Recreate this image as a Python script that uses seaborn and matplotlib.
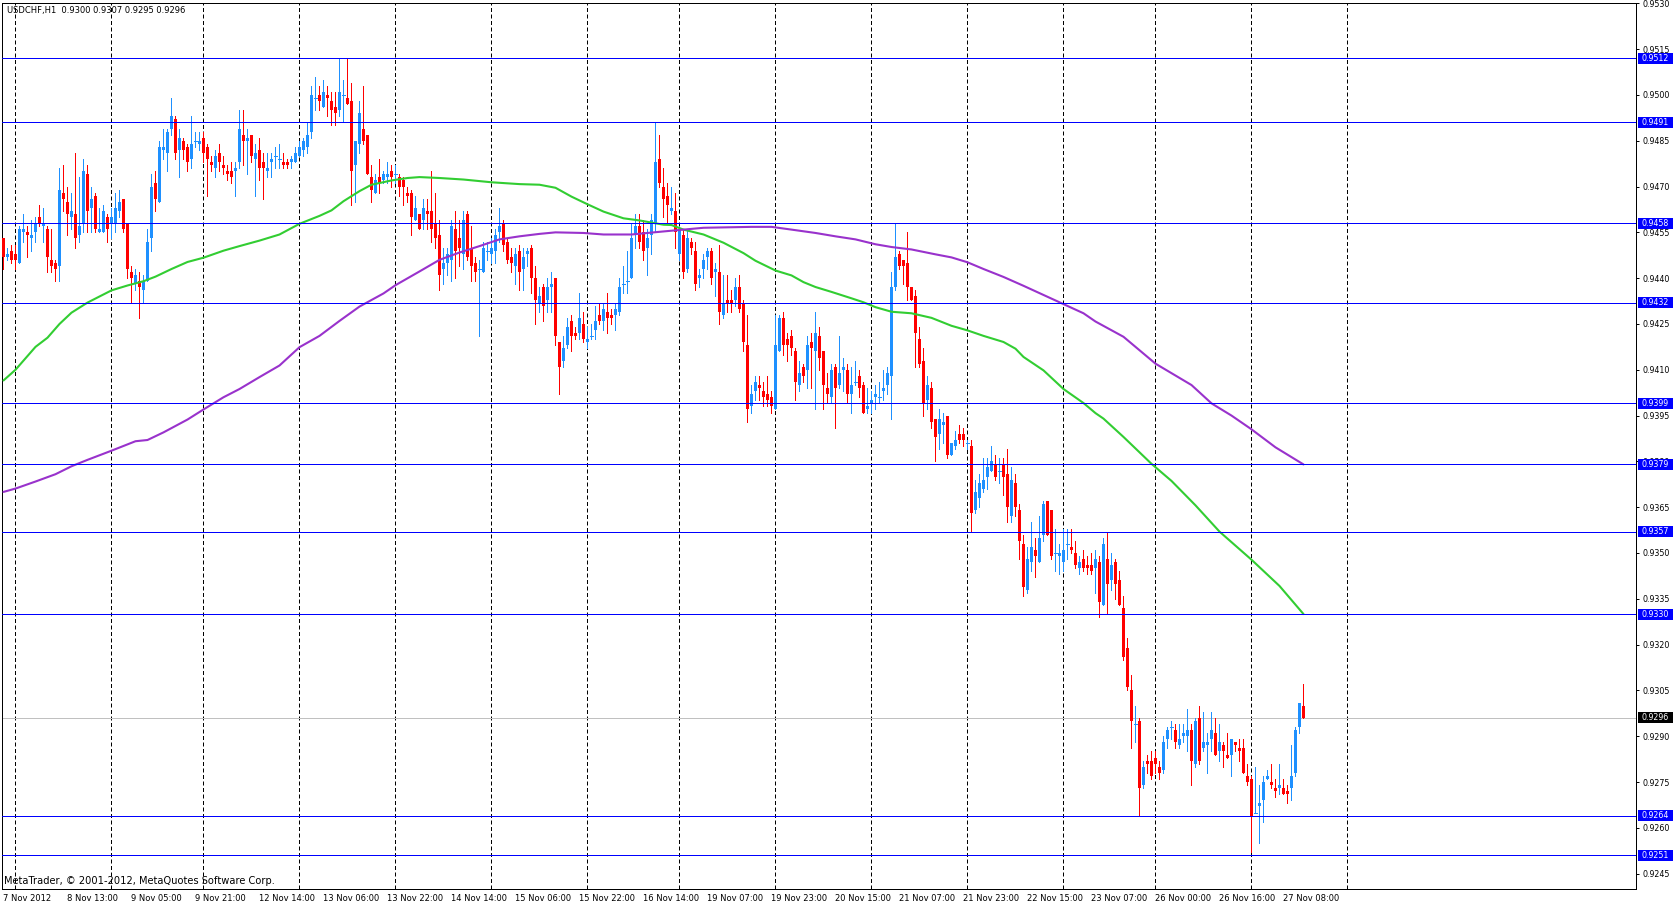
import numpy as np
import matplotlib
matplotlib.use("Agg")
import matplotlib.pyplot as plt
import matplotlib.transforms as mtrans
from matplotlib.patches import Rectangle
import seaborn as sns

# ---------------- data (prices x 10000, one candle per hour) ----------------
opens = [
 9453,9447,9449,9448,9445,9455,9455,9453,9455,9460,9457,9456,9446,9445,9444,9468,9465,9460,9461,9454,
 9458,9474,9463,9467,9455,9455,9460,9458,9458,9462,9466,9458,9442,9438,9439,9436,9439,9453,9471,9465,
 9482,9481,9489,9492,9482,9485,9483,9479,9485,9484,9486,9483,9478,9476,9481,9477,9475,9475,9475,9478,
 9487,9485,9487,9479,9482,9478,9475,9478,9480,9479,9478,9478,9478,9478,9480,9482,9483,9488,9499,9500,
 9496,9500,9498,9496,9495,9500,9499,9498,9477,9484,9489,9487,9473,9468,9473,9472,9473,9475,9474,9473,
 9472,9468,9468,9459,9461,9459,9462,9462,9458,9454,9443,9445,9446,9456,9453,9448,9461,9450,9445,9443,
 9442,9449,9448,9449,9455,9458,9452,9447,9444,9449,9443,9448,9450,9440,9432,9437,9433,9437,9440,9419,
 9413,9418,9426,9422,9422,9425,9419,9421,9423,9428,9426,9429,9428,9428,9429,9438,9439,9440,9454,9457,
 9455,9450,9454,9458,9479,9470,9467,9462,9462,9448,9454,9443,9452,9449,9440,9443,9447,9449,9442,9442,
 9428,9433,9433,9433,9437,9432,9418,9398,9403,9405,9403,9402,9401,9397,9416,9427,9420,9421,9416,9405,
 9411,9410,9419,9416,9421,9416,9404,9401,9411,9405,9410,9410,9402,9406,9408,9405,9397,9399,9401,9401,
 9403,9405,9408,9437,9448,9446,9445,9437,9434,9420,9413,9400,9404,9394,9389,9392,9395,9382,9385,9389,
 9389,9386,9385,9364,9368,9371,9375,9377,9379,9377,9379,9376,9362,9373,9364,9353,9338,9347,9351,9347,
 9356,9367,9364,9350,9349,9347,9353,9352,9350,9345,9348,9346,9346,9345,9347,9333,9348,9341,9347,9341,
 9332,9319,9305,9294,9295,9274,9282,9282,9283,9280,9279,9289,9293,9292,9287,9290,9290,9292,9281,9296,
 9286,9287,9289,9291,9285,9287,9284,9284,9288,9286,9286,9277,9276,9265,9267,9269,9276,9275,9273,9273,
 9273,9272,9273,9278,9293,9300]
highs = [
 9453,9450,9451,9451,9457,9461,9457,9459,9460,9464,9463,9457,9456,9446,9476,9477,9470,9468,9481,9473,
 9479,9477,9470,9468,9463,9464,9461,9463,9468,9469,9466,9458,9444,9443,9442,9441,9456,9474,9475,9485,
 9489,9489,9499,9493,9489,9486,9484,9493,9488,9488,9488,9484,9480,9482,9484,9480,9477,9478,9478,9495,
 9495,9489,9487,9484,9486,9481,9481,9481,9483,9484,9481,9479,9480,9483,9485,9486,9491,9503,9506,9503,
 9505,9503,9501,9501,9512,9505,9512,9504,9485,9498,9503,9487,9477,9474,9479,9475,9478,9477,9477,9474,
 9473,9470,9469,9467,9461,9466,9466,9475,9468,9459,9450,9450,9459,9462,9459,9462,9462,9457,9447,9446,
 9452,9452,9453,9456,9463,9459,9453,9450,9450,9451,9450,9450,9451,9444,9437,9438,9440,9442,9440,9419,
 9421,9427,9428,9424,9435,9429,9424,9425,9431,9432,9432,9435,9430,9432,9440,9444,9449,9458,9461,9461,
 9459,9456,9461,9491,9487,9476,9471,9470,9468,9457,9456,9456,9453,9452,9443,9448,9450,9450,9445,9451,
 9441,9441,9436,9440,9441,9433,9428,9405,9408,9408,9406,9408,9403,9428,9428,9429,9422,9423,9417,9413,
 9412,9421,9422,9429,9424,9416,9409,9412,9412,9421,9414,9412,9411,9413,9410,9406,9404,9403,9405,9406,
 9410,9411,9442,9458,9449,9446,9455,9437,9436,9424,9417,9408,9406,9394,9397,9396,9395,9386,9390,9392,
 9391,9387,9387,9374,9376,9381,9381,9385,9382,9381,9381,9384,9378,9376,9366,9356,9352,9360,9355,9362,
 9367,9367,9364,9358,9353,9358,9358,9358,9354,9349,9351,9349,9350,9351,9349,9355,9357,9350,9348,9344,
 9336,9322,9310,9300,9296,9282,9284,9285,9285,9282,9290,9293,9295,9294,9294,9294,9299,9294,9296,9300,
 9298,9291,9298,9296,9294,9288,9291,9289,9288,9289,9289,9281,9277,9280,9274,9277,9279,9281,9276,9281,
 9276,9274,9287,9293,9301,9307]
lows = [
 9443,9446,9445,9443,9445,9452,9447,9449,9452,9457,9452,9442,9442,9439,9439,9462,9454,9456,9450,9452,
 9455,9455,9455,9455,9455,9455,9452,9453,9455,9460,9455,9440,9432,9436,9427,9432,9439,9449,9462,9465,
 9479,9475,9487,9479,9473,9479,9475,9476,9483,9482,9478,9467,9475,9473,9475,9474,9472,9471,9467,9476,
 9477,9474,9478,9467,9472,9466,9473,9473,9476,9476,9476,9476,9476,9478,9480,9480,9481,9486,9495,9495,
 9496,9493,9490,9490,9493,9491,9497,9464,9465,9481,9484,9474,9465,9468,9468,9471,9471,9470,9471,9467,
 9464,9465,9454,9459,9456,9456,9456,9452,9450,9436,9438,9441,9439,9440,9444,9443,9446,9439,9439,9421,
 9442,9446,9445,9445,9452,9449,9445,9442,9438,9436,9436,9444,9435,9425,9429,9426,9429,9429,9418,9402,
 9411,9417,9416,9420,9420,9419,9417,9420,9420,9425,9423,9422,9425,9423,9428,9435,9435,9440,9450,9450,
 9446,9441,9448,9455,9470,9460,9458,9461,9450,9446,9440,9442,9448,9436,9437,9440,9443,9438,9434,9425,
 9427,9429,9429,9431,9429,9416,9393,9396,9400,9400,9398,9398,9396,9397,9416,9415,9413,9415,9400,9403,
 9406,9404,9404,9397,9410,9397,9399,9399,9391,9404,9403,9399,9396,9405,9401,9396,9396,9396,9397,9399,
 9400,9402,9394,9436,9443,9438,9433,9433,9411,9411,9395,9397,9391,9380,9384,9386,9381,9382,9384,9386,
 9385,9384,9357,9363,9365,9370,9371,9377,9374,9373,9369,9360,9360,9362,9348,9336,9337,9344,9342,9347,
 9354,9356,9348,9344,9343,9344,9348,9350,9345,9343,9344,9343,9343,9337,9329,9333,9330,9338,9335,9333,
 9315,9305,9286,9288,9264,9273,9278,9276,9278,9276,9278,9286,9289,9286,9286,9288,9285,9274,9280,9281,
 9285,9278,9285,9284,9282,9280,9283,9277,9285,9282,9278,9274,9252,9265,9255,9262,9276,9273,9270,9271,
 9271,9268,9269,9277,9291,9296]
closes = [
 9447,9448,9446,9446,9456,9456,9454,9454,9458,9458,9458,9447,9444,9443,9469,9466,9461,9462,9453,9457,
 9475,9462,9466,9456,9456,9462,9456,9460,9463,9465,9456,9443,9440,9441,9437,9439,9452,9470,9466,9483,
 9483,9488,9493,9481,9486,9482,9478,9484,9485,9485,9481,9479,9477,9480,9478,9476,9474,9473,9476,9489,
 9485,9486,9480,9481,9476,9476,9476,9479,9480,9479,9477,9477,9479,9481,9483,9485,9487,9500,9499,9498,
 9501,9499,9495,9494,9501,9500,9497,9475,9485,9494,9485,9474,9469,9472,9471,9474,9474,9473,9474,9470,
 9470,9467,9460,9463,9456,9463,9461,9456,9453,9441,9445,9448,9457,9449,9450,9459,9447,9444,9442,9443,
 9450,9449,9450,9454,9457,9451,9446,9445,9448,9442,9447,9449,9440,9433,9434,9431,9437,9438,9421,9411,
 9417,9424,9421,9421,9427,9420,9420,9421,9426,9426,9430,9427,9427,9430,9437,9438,9439,9453,9457,9452,
 9449,9453,9459,9478,9471,9466,9464,9463,9455,9456,9442,9453,9450,9438,9441,9446,9449,9440,9443,9429,
 9432,9432,9432,9437,9430,9419,9397,9402,9406,9404,9401,9400,9398,9418,9427,9418,9418,9417,9406,9409,
 9408,9418,9417,9422,9414,9405,9402,9410,9404,9409,9411,9402,9405,9406,9404,9396,9398,9400,9402,9401,
 9404,9409,9437,9447,9444,9444,9437,9433,9422,9412,9399,9405,9393,9388,9394,9393,9382,9386,9387,9387,
 9387,9386,9363,9370,9373,9374,9378,9380,9375,9377,9375,9365,9374,9365,9354,9339,9348,9352,9349,9355,
 9366,9356,9349,9350,9350,9351,9353,9351,9346,9347,9345,9345,9344,9348,9334,9353,9340,9346,9340,9333,
 9316,9306,9295,9294,9273,9280,9281,9277,9281,9278,9288,9292,9293,9288,9289,9291,9292,9282,9295,9282,
 9288,9288,9292,9284,9288,9285,9283,9289,9287,9285,9278,9275,9264,9265,9268,9275,9277,9274,9272,9274,
 9271,9271,9277,9292,9301,9296]

# moving averages: (bar index, price x 10000)
ma_fast_bar = [0,3,5,8,11,14,17,21,27,31,35,38,42,46,50,55,59,64,69,74,79,82,85,89,92,97,101,104,109,
               115,122,129,134,138,142,146,150,155,159,165,167,170,175,180,185,188,193,197,200,203,207,
               212,215,218,222,227,232,237,241,245,250,253,255,260,265,270,273,275,280,287,292,298,304,
               312,319,325]
ma_fast_val = [9406.5,9410,9413,9417.5,9420.5,9425,9428.7,9432,9436,9437.6,9439,9440.5,9443,9445.3,9446.7,
               9449,9450.5,9452.3,9454.3,9457.8,9460.4,9462.2,9465.2,9468.5,9470.6,9472,9472.8,9473.1,
               9472.8,9472.3,9471.4,9470.8,9470.6,9469.6,9466.7,9464.2,9461.8,9459.6,9458.9,9457.5,9457.4,
               9455.9,9454.3,9451.6,9448.2,9445.7,9442.5,9440.9,9438.7,9437.1,9435.5,9433.4,9432.1,9430.5,
               9429,9428.5,9427,9424.4,9422.9,9421.1,9419.1,9416.9,9414.2,9409.8,9403.7,9399.1,9395.8,
               9394,9388,9379.2,9373.6,9365.6,9357,9347.8,9339.2,9330]
ma_slow_bar = [0,3,8,13,17,21,27,33,36,40,46,50,55,59,64,69,74,79,84,89,95,98,104,109,114,119,124,129,
               134,138,145,150,157,165,175,187,192,197,203,208,213,218,222,227,233,237,241,245,250,255,
               260,265,270,273,280,288,297,302,307,312,318,325]
ma_slow_val = [9370,9371.1,9373.4,9375.8,9378.4,9380.5,9383.5,9386.6,9387,9389.5,9393.7,9397,9401,9403.7,
               9407.6,9411.4,9417.4,9421.1,9426,9430.7,9435,9437.7,9442.2,9446,9448.4,9450.5,9452.7,
               9453.7,9454.5,9455,9454.8,9454.3,9454.3,9455.3,9456.5,9456.8,9456.8,9455.9,9454.8,9453.7,
               9452.7,9451.1,9450.2,9449.4,9447.8,9446.8,9445.2,9443,9440.4,9437.5,9434.5,9431.5,9428.5,
               9425.8,9420.8,9412,9405,9399,9395,9390.5,9384.6,9379]

levels = [9512, 9491, 9458, 9432, 9399, 9379, 9357, 9330, 9264, 9251]
bid = 9296
price_ticks = [9245, 9260, 9275, 9290, 9305, 9320, 9335, 9350, 9365, 9380, 9395, 9410, 9425,
               9440, 9455, 9470, 9485, 9500, 9515, 9530]
time_labels = ["7 Nov 2012", "8 Nov 13:00", "9 Nov 05:00", "9 Nov 21:00", "12 Nov 14:00",
               "13 Nov 06:00", "13 Nov 22:00", "14 Nov 14:00", "15 Nov 06:00", "15 Nov 22:00",
               "16 Nov 14:00", "19 Nov 07:00", "19 Nov 23:00", "20 Nov 15:00", "21 Nov 07:00",
               "21 Nov 23:00", "22 Nov 15:00", "23 Nov 07:00", "26 Nov 00:00", "26 Nov 16:00",
               "27 Nov 08:00"]
grid_bars = [3, 27, 50, 74, 98, 122, 146, 169, 193, 217, 241, 265, 288, 312, 336]
title_text = "USDCHF,H1  0.9300 0.9307 0.9295 0.9296"
copyright_text = "MetaTrader, \u00a9 2001-2012, MetaQuotes Software Corp."

assert len(opens) == len(highs) == len(lows) == len(closes) == 326
assert len(ma_fast_bar) == len(ma_fast_val) and len(ma_slow_bar) == len(ma_slow_val)

# ---------------- styling ----------------
sns.set_style("white")
plt.rcParams['font.family'] = ['DejaVu Sans']

W, H = 1674, 906
fig = plt.figure(figsize=(W / 100, H / 100), dpi=100, facecolor='white')
ax_l, ax_r, ax_t, ax_b = 2.0, 1636.0, 3.0, 889.0      # pixel edges of the chart frame
ax = fig.add_axes([ax_l / W, 1 - ax_b / H, (ax_r - ax_l) / W, (ax_b - ax_t) / H])
ax.set_facecolor('white')

S = 1e-4
O = np.array(opens) * S
Hh = np.array(highs) * S
L = np.array(lows) * S
C = np.array(closes) * S
x = np.arange(len(O))

px_per_pip = 3.0536
y_top = 0.9512 + (58.3 - ax_t) / px_per_pip * S
y_bot = 0.9251 - (ax_b - 855.3) / px_per_pip * S
ax.set_ylim(y_bot, y_top)
ax.set_xlim(-0.375, (ax_r - ax_l) / 4 - 0.375)

BULL = '#1E90FF'
BEAR = '#FF0000'
LW1 = 0.72  # one pixel

# grid (dashed, daily-ish spacing)
for g in grid_bars:
    ax.axvline(g, color='black', lw=LW1, ls=(0, (4, 2.5)), zorder=0.5)

# bid line
ax.axhline(bid * S, color='#C0C0C0', lw=LW1, zorder=1)

# candles
bull = C >= O
cols = np.where(bull, BULL, BEAR)
ax.vlines(x, L, Hh, colors=cols, lw=LW1, zorder=2, antialiased=False)
body_lo = np.minimum(O, C)
body_h = np.abs(C - O)
nz = body_h > 0
ax.bar(x[nz], body_h[nz], bottom=body_lo[nz], width=0.75, color=cols[nz],
       linewidth=0, zorder=3, antialiased=False)
dj = ~nz
ax.hlines(C[dj], x[dj] - 0.375, x[dj] + 0.375, colors=cols[dj], lw=LW1, zorder=3,
          antialiased=False)

# moving averages
sns.lineplot(x=ma_fast_bar, y=np.array(ma_fast_val) * S, ax=ax, color='#32CD32',
             linewidth=1.5, sort=False, legend=False, zorder=4)
sns.lineplot(x=ma_slow_bar, y=np.array(ma_slow_val) * S, ax=ax, color='#9932CC',
             linewidth=1.5, sort=False, legend=False, zorder=4)

# horizontal levels
for lv in levels:
    ax.axhline(lv * S, color='#0000FF', lw=LW1, zorder=5)

# axes frame
for sp in ax.spines.values():
    sp.set_color('black')
    sp.set_linewidth(LW1)
    sp.set_visible(True)

# price axis on the right
ax.yaxis.tick_right()
ax.set_yticks([t * S for t in price_ticks])
ax.set_yticklabels([f"{t * S:.4f}" for t in price_ticks])
ax.tick_params(axis='y', which='both', direction='out', length=2.2, width=LW1,
               pad=2.2, labelsize=5.7, colors='black', left=False, right=True)

# time axis
ax.set_xticks(list(range(0, 16 * len(time_labels), 16)))
ax.set_xticklabels(time_labels)
for lab in ax.get_xticklabels():
    lab.set_horizontalalignment('left')
ax.tick_params(axis='x', direction='out', length=2.2, width=LW1, pad=1.6,
               labelsize=6, colors='black')
ax.set_xlabel('')
ax.set_ylabel('')
ax.grid(False)

# price boxes on the right scale
tr = mtrans.blended_transform_factory(fig.transFigure, ax.transData)
box_h = 11 / px_per_pip * S
for lv, fc in [(v, '#0000FF') for v in levels] + [(bid, '#000000')]:
    ax.add_patch(Rectangle((1638 / W, lv * S - box_h / 2), (W - 1638) / W, box_h,
                           transform=tr, facecolor=fc, edgecolor='none',
                           clip_on=False, zorder=10))
    ax.text(1642 / W, lv * S, f"{lv * S:.4f}", transform=tr, color='white',
            fontsize=5.7, va='center', ha='left', zorder=11, clip_on=False)

# texts
fig.text(7.3 / W, 1 - 10.7 / H, title_text, fontsize=6, color='black', va='center', ha='left')
fig.text(4.5 / W, 1 - 880.7 / H, copyright_text, fontsize=7.1, color='black',
         va='center', ha='left')

fig.savefig('out.png', dpi=100, facecolor='white')
